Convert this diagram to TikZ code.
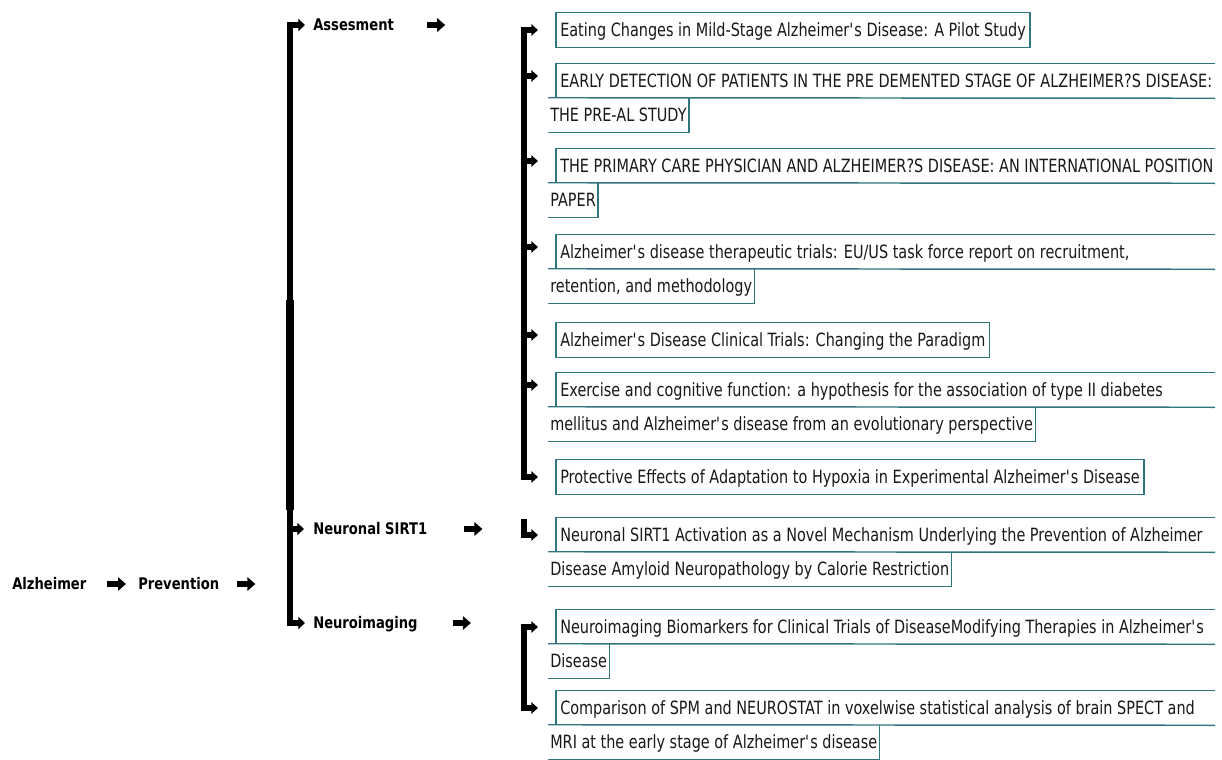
\documentclass[tikz,border=0pt]{standalone}
\usepackage{fontspec}
\setmainfont{DejaVu Sans}[FakeStretch=0.79]
\newfontfamily\labelfont{DejaVu Sans}[FakeStretch=0.82]
\usetikzlibrary{arrows.meta,calc}
\definecolor{boxline}{RGB}{48,118,128}
\definecolor{ink}{RGB}{25,25,25}

% straight apostrophe
\newcommand\ap{\textquotesingle}
% one line of a reference title, sized so that its node box is the frame
\newcommand\refline[3]{\node[lbox,#1] (#2) {#3};}

\begin{document}
\begin{tikzpicture}[x=0.75pt,y=-0.75pt,
  lbox/.style={anchor=west,inner ysep=0pt,minimum height=25.5pt,
    text height=12.2pt,text depth=2.2pt,text=ink,
    font=\fontsize{13.7pt}{16pt}\selectfont},
  first/.style={inner xsep=3pt},
  second/.style={inner xsep=1.5pt},
  topic/.style={anchor=west,inner sep=0pt,text height=8.75pt,text depth=0pt,
    text=black,font={\labelfont\bfseries\fontsize{12pt}{14pt}\selectfont}},
  fatarrow/.style={line width=4pt,-{Triangle[length=6pt,width=10pt]}},
  mainbr/.style={line width=4.5pt,-{Triangle[length=5pt,width=9pt]}},
  subbr/.style={line width=3.8pt,-{Triangle[length=5pt,width=8.5pt]}},
  frame/.style={draw=boxline,line width=1.1pt}]

\useasboundingbox[fill=white] (0,0) rectangle (1222,760);

\coordinate (b1) at (290,0);
\coordinate (b2) at (524,0);
\coordinate (rightedge) at (1215,0);

% ---- topic labels ----
\node[topic] (alz)  at (12,584)  {Alzheimer};
\node[topic] (prev) at (138,584) {Prevention};
\node[topic] (asm)  at (313,25)  {Assesment};
\node[topic] (sirt) at (313,529) {Neuronal SIRT1};
\node[topic] (img)  at (313,623) {Neuroimaging};

\draw[fatarrow] ($(alz.east)+(20,0)$) -- ($(prev.west)+(-12,0)$);
\draw[fatarrow] ($(prev.east)+(18,0)$) -- ++(18,0);
\draw[fatarrow] ($(asm.east)+(33,0)$) -- ++(18,0);
\draw[fatarrow] ($(sirt.east)+(37,0)$) -- ++(18,0);
\draw[fatarrow] ($(img.east)+(35,0)$) -- ++(18,0);

% ---- main bracket ----
\draw[line width=6pt] (290,300) -- (290,510);
\draw[mainbr] (b1 |- img.west) |- ($(asm.west)+(-8,0)$);
\draw[mainbr] (b1 |- asm.west) |- ($(img.west)+(-8,0)$);
\draw[mainbr] (b1 |- sirt.west) -- ($(sirt.west)+(-9,0)$);

% ---- reference titles ----
\refline{first,at={(556,30)}}{i1a}{Eating Changes in Mild-Stage Alzheimer\ap s Disease: A Pilot Study}
\refline{first,at={(556,81)}}{i2a}{EARLY DETECTION OF PATIENTS IN THE PRE DEMENTED STAGE OF ALZHEIMER?S DISEASE:}
\refline{second,at={(548,115)}}{i2b}{THE PRE-AL STUDY}
\refline{first,at={(556,166)}}{i3a}{THE PRIMARY CARE PHYSICIAN AND ALZHEIMER?S DISEASE: AN INTERNATIONAL POSITION}
\refline{second,at={(548,200)}}{i3b}{PAPER}
\refline{first,at={(556,252)}}{i4a}{Alzheimer\ap s disease therapeutic trials: EU/US task force report on recruitment,}
\refline{second,at={(548,286)}}{i4b}{retention, and methodology}
\refline{first,at={(556,340)}}{i5a}{Alzheimer\ap s Disease Clinical Trials: Changing the Paradigm}
\refline{first,at={(556,390)}}{i6a}{Exercise and cognitive function: a hypothesis for the association of type II diabetes}
\refline{second,at={(548,424)}}{i6b}{mellitus and Alzheimer\ap s disease from an evolutionary perspective}
\refline{first,at={(556,477)}}{i7a}{Protective Effects of Adaptation to Hypoxia in Experimental Alzheimer\ap s Disease}
\refline{first,at={(556,535)}}{i8a}{Neuronal SIRT1 Activation as a Novel Mechanism Underlying the Prevention of Alzheimer}
\refline{second,at={(548,569)}}{i8b}{Disease Amyloid Neuropathology by Calorie Restriction}
\refline{first,at={(556,627)}}{i9a}{Neuroimaging Biomarkers for Clinical Trials of DiseaseModifying Therapies in Alzheimer\ap s}
\refline{second,at={(548,661)}}{i9b}{Disease}
\refline{first,at={(556,708)}}{i10a}{Comparison of SPM and NEUROSTAT in voxelwise statistical analysis of brain SPECT and}
\refline{second,at={(548,742)}}{i10b}{MRI at the early stage of Alzheimer\ap s disease}

% single-line frames
\foreach \n in {i1a,i5a,i7a}
  \draw[frame] (\n.north west) rectangle (\n.south east);
% two-line frames: open to the right on the first line, open to the left on the second
\foreach \a/\b in {i2a/i2b,i3a/i3b,i4a/i4b,i6a/i6b,i8a/i8b,i9a/i9b,i10a/i10b}{
  \draw[frame] (\a.south west) -- (\a.north west) -- (\a.north west -| rightedge);
  \draw[frame] (\b.north west) -- (\a.south west -| rightedge);
  \draw[frame] (\b.north east) -- (\b.south east) -- (\b.south west);
}

% ---- brackets to the titles ----
\draw[subbr] (b2 |- i7a.west) |- ($(i1a.west)+(-18,0)$);
\draw[subbr] (b2 |- i1a.west) |- ($(i7a.west)+(-18,0)$);
\foreach \n in {i2a,i3a,i4a,i5a,i6a}
  \draw[subbr] ($(b2 |- \n.west)+(0,-5)$) -- ($(\n.west)+(-18,-5)$);
\draw[subbr] ($(b2 |- i8a.west)+(0,-16)$) |- ($(i8a.west)+(-18,0)$);
\draw[subbr] (b2 |- i10a.west) |- ($(i9a.west)+(-18,0)$);
\draw[subbr] (b2 |- i9a.west) |- ($(i10a.west)+(-18,0)$);

\end{tikzpicture}
\end{document}
